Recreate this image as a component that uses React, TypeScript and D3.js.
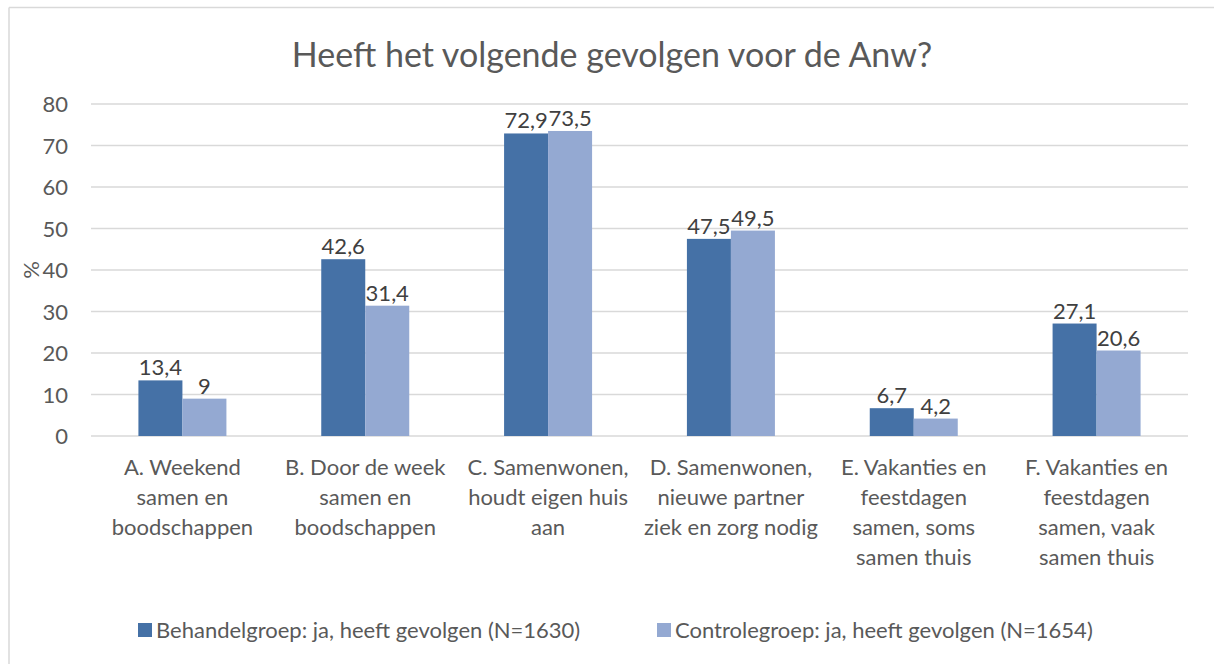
import React from "react";
import * as d3 from "d3";

const categories: string[][] = [
  ["A. Weekend", "samen en", "boodschappen"],
  ["B. Door de week", "samen en", "boodschappen"],
  ["C. Samenwonen,", "houdt eigen huis", "aan"],
  ["D. Samenwonen,", "nieuwe partner", "ziek en zorg nodig"],
  ["E. Vakanties en", "feestdagen", "samen, soms", "samen thuis"],
  ["F. Vakanties en", "feestdagen", "samen, vaak", "samen thuis"],
];
const behandel: number[] = [13.4, 42.6, 72.9, 47.5, 6.7, 27.1];
const controle: number[] = [9, 31.4, 73.5, 49.5, 4.2, 20.6];
const seriesNames: string[] = [
  "Behandelgroep: ja, heeft gevolgen (N=1630)",
  "Controlegroep: ja, heeft gevolgen (N=1654)",
];
const yTicks: number[] = [0, 10, 20, 30, 40, 50, 60, 70, 80];
const title = "Heeft het volgende gevolgen voor de Anw?";

const W = 1214;
const H = 664;
const colors = ["#4571A6", "#94A9D2"];
const textColor = "#595959";
const font = "Lato, 'Open Sans', sans-serif";

export default function App() {
  const x0 = 91, x1 = 1188, yTop = 104, yBot = 436;
  const x = d3.scaleBand<number>().domain(d3.range(categories.length)).range([x0, x1]).padding(0);
  const y = d3.scaleLinear().domain([0, 80]).range([yBot, yTop]);
  const barW = 44;
  const fmt = (v: number) => String(v).replace(".", ",");
  const series = [behandel, controle];

  return (
    <svg width={W} height={H} style={{ position: "absolute", left: 0, top: 0, display: "block" }} fontFamily={font}>
      <rect x={0} y={0} width={W} height={H} fill="#fff" />
      <line x1={9} x2={W} y1={7.5} y2={7.5} stroke="#d9d9d9" strokeWidth={1.5} />
      <line x1={9} x2={9} y1={7.5} y2={H} stroke="#d9d9d9" strokeWidth={1.5} />
      <text x={612} y={67} textAnchor="middle" fontSize={34} fill={textColor}>{title}</text>
      {yTicks.map((t) => (
        <g key={t}>
          <line x1={x0} x2={x1} y1={y(t)} y2={y(t)} stroke="#d9d9d9" strokeWidth={1.5} />
          <text x={68} y={y(t) + 8} textAnchor="end" fontSize={22} fill={textColor}>{t}</text>
        </g>
      ))}
      <text transform={`translate(39,${y(40)}) rotate(-90)`} textAnchor="middle" fontSize={22} fill={textColor}>%</text>
      {categories.map((lines, i) => {
        const cx = (x(i) as number) + x.bandwidth() / 2;
        return (
          <g key={i}>
            {series.map((s, k) => {
              const bx = cx - barW + k * barW;
              return (
                <g key={k}>
                  <rect x={bx} y={y(s[i])} width={barW} height={yBot - y(s[i])} fill={colors[k]} />
                  <text x={bx + barW / 2} y={y(s[i]) - 5} textAnchor="middle" fontSize={22} fill="#404040">{fmt(s[i])}</text>
                </g>
              );
            })}
            {lines.map((l, j) => (
              <text key={j} x={cx} y={475 + j * 30} textAnchor="middle" fontSize={22} fill={textColor}>{l}</text>
            ))}
          </g>
        );
      })}
      {seriesNames.map((n, k) => {
        const lx = k === 0 ? 138 : 657;
        return (
          <g key={k}>
            <rect x={lx} y={623} width={14} height={14} fill={colors[k]} />
            <text x={lx + 18} y={638} fontSize={22} fill={textColor}>{n}</text>
          </g>
        );
      })}
    </svg>
  );
}
